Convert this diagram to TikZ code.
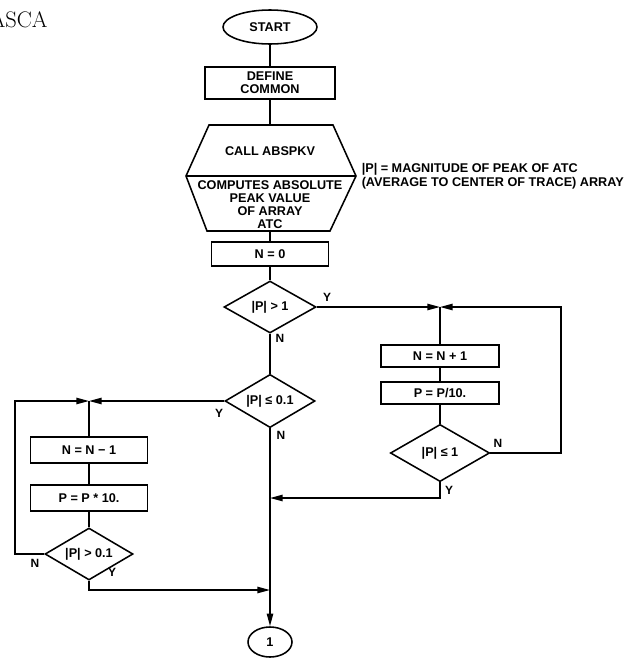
\documentclass[tikz,border=0pt]{standalone}
\usepackage{fontspec}
\setsansfont{Liberation Sans}
\usetikzlibrary{arrows.meta,shapes.geometric}
\tikzset{
  procbox/.style={draw, inner sep=1pt, minimum width=2.93cm, minimum height=0.6cm},
  decide/.style={draw, diamond, aspect=2, inner sep=0pt},
  term/.style={draw, ellipse, inner sep=0pt},
  yn/.style={inner sep=0pt, font=\sffamily\bfseries\fontsize{8.5}{9}\selectfont},
  arrowto/.style={-{Triangle[length=9pt,width=4.5pt]}}
}

\begin{document}
\begin{tikzpicture}[x=0.025cm, y=-0.025cm, line width=1.1pt,
  font=\sffamily\bfseries\fontsize{9}{9.5}\selectfont]
\useasboundingbox (0,0) rectangle (637,658);
\node[font=\rmfamily\fontsize{16}{16}\selectfont, anchor=base west, inner sep=0pt] (title) at (-11,27) {ASCA};

\node[term, minimum width=2.35cm, minimum height=0.85cm] (start) at (270,27) {START};
\node[procbox, minimum width=3.25cm, minimum height=0.8cm, align=center] (common) at (270,83) {DEFINE\\COMMON};

\coordinate (hexN) at (270,125);
\coordinate (hexS) at (270,231);
\draw (209,125) -- (333,125) -- (356,176) -- (330,231) -- (207,231) -- (186,176) -- cycle;
\draw (186,176) -- (356,176);
\node (call) at (270,151) {CALL ABSPKV};
\node[align=center, inner sep=0pt, font=\sffamily\bfseries\fontsize{9}{9.2}\selectfont] (abspk) at (270,205)
  {COMPUTES ABSOLUTE\\PEAK VALUE\\OF ARRAY\\ATC};
\node[anchor=west, align=left, inner sep=0pt, font=\sffamily\bfseries\fontsize{9}{9.9}\selectfont] (note) at (361,176)
  {|P| = MAGNITUDE OF PEAK OF ATC\\(AVERAGE TO CENTER OF TRACE) ARRAY};

\node[procbox] (nzero) at (270,254) {N = 0};
\node[decide, minimum width=2.3cm, minimum height=1.3cm] (big) at (270,307) {|P| > 1};
\node[decide, minimum width=2.25cm, minimum height=1.33cm] (small) at (270,401) {|P| ≤ 0.1};

\node[procbox, minimum width=2.95cm, minimum height=0.55cm] (incN) at (440,356) {N = N + 1};
\node[procbox, minimum width=2.95cm, minimum height=0.55cm] (divP) at (440,393) {P = P/10.};
\node[decide, minimum width=2.48cm, minimum height=1.43cm] (le1) at (440,453) {|P| ≤ 1};
\coordinate (jR) at (big.east -| incN);
\coordinate (loopR) at (561,307);

\node[procbox, minimum height=0.65cm] (decN) at (89,450) {N = N − 1};
\node[procbox, minimum height=0.65cm] (mulP) at (89,498) {P = P * 10.};
\node[decide, minimum width=2.2cm, minimum height=1.3cm] (gt01) at (89,554) {|P| > 0.1};
\coordinate (jL) at (small.west -| decN);
\coordinate (loopL) at (15,401);

\node[term, minimum width=1.1cm, minimum height=0.75cm] (one) at (270,642) {1};
\coordinate (m1) at (270,498);
\coordinate (m2) at (270,590);

\draw (start) -- (common);
\draw (common) -- (hexN);
\draw (hexS) -- (nzero);
\draw (nzero) -- (big);
\draw (big) -- (small);
\draw[arrowto] (small) -- (one);

\draw[arrowto] (big.east) -- (jR);
\draw[arrowto] (le1.east) -| (loopR) -- (jR);
\draw (jR) -- (incN);
\draw (incN) -- (divP);
\draw (divP) -- (le1);
\draw[arrowto] (le1.south) |- (m1);

\draw[arrowto] (small.west) -- (jL);
\draw[arrowto] (gt01.west) -| (loopL) -- (jL);
\draw (jL) -- (decN);
\draw (decN) -- (mulP);
\draw (mulP) -- (gt01);
\draw[arrowto] (gt01.south) |- (m2);

\node[yn] (bigY) at (327,297) {Y};
\node[yn] (bigN) at (280,338) {N};
\node[yn] (smallY) at (219,413) {Y};
\node[yn] (smallN) at (281,435) {N};
\node[yn] (le1N) at (498,443) {N};
\node[yn] (le1Y) at (449,490) {Y};
\node[yn] (gt01N) at (35,563) {N};
\node[yn] (gt01Y) at (112,572) {Y};
\end{tikzpicture}
\end{document}
